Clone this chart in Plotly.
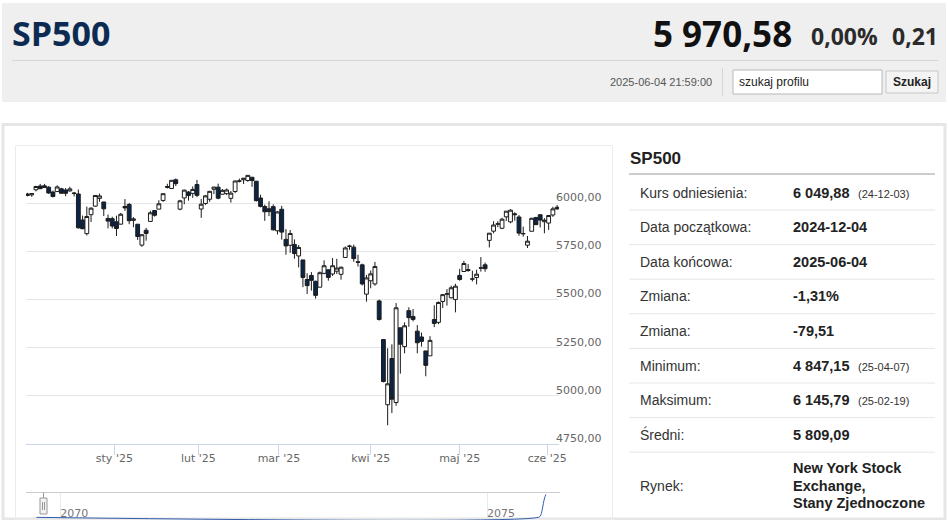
import plotly.graph_objects as go
from datetime import date

# ---------------- data ----------------
dates = [
    "2024-12-02", "2024-12-03", "2024-12-04", "2024-12-05", "2024-12-06",
    "2024-12-09", "2024-12-10", "2024-12-11", "2024-12-12", "2024-12-13",
    "2024-12-16", "2024-12-17", "2024-12-18", "2024-12-19", "2024-12-20",
    "2024-12-23", "2024-12-24", "2024-12-26", "2024-12-27", "2024-12-30", "2024-12-31",
    "2025-01-02", "2025-01-03", "2025-01-06", "2025-01-07", "2025-01-08", "2025-01-10",
    "2025-01-13", "2025-01-14", "2025-01-15", "2025-01-16", "2025-01-17",
    "2025-01-21", "2025-01-22", "2025-01-23", "2025-01-24",
    "2025-01-27", "2025-01-28", "2025-01-29", "2025-01-30", "2025-01-31",
    "2025-02-03", "2025-02-04", "2025-02-05", "2025-02-06", "2025-02-07",
    "2025-02-10", "2025-02-11", "2025-02-12", "2025-02-13", "2025-02-14",
    "2025-02-18", "2025-02-19", "2025-02-20", "2025-02-21",
    "2025-02-24", "2025-02-25", "2025-02-26", "2025-02-27", "2025-02-28",
    "2025-03-03", "2025-03-04", "2025-03-05", "2025-03-06", "2025-03-07",
    "2025-03-10", "2025-03-11", "2025-03-12", "2025-03-13", "2025-03-14",
    "2025-03-17", "2025-03-18", "2025-03-19", "2025-03-20", "2025-03-21",
    "2025-03-24", "2025-03-25", "2025-03-26", "2025-03-27", "2025-03-28", "2025-03-31",
    "2025-04-01", "2025-04-02", "2025-04-03", "2025-04-04",
    "2025-04-07", "2025-04-08", "2025-04-09", "2025-04-10", "2025-04-11",
    "2025-04-14", "2025-04-15", "2025-04-16", "2025-04-17",
    "2025-04-21", "2025-04-22", "2025-04-23", "2025-04-24", "2025-04-25",
    "2025-04-28", "2025-04-29", "2025-04-30",
    "2025-05-01", "2025-05-02", "2025-05-05", "2025-05-06", "2025-05-07", "2025-05-08", "2025-05-09",
    "2025-05-12", "2025-05-13", "2025-05-14", "2025-05-15", "2025-05-16",
    "2025-05-19", "2025-05-20", "2025-05-21", "2025-05-22", "2025-05-23",
    "2025-05-27", "2025-05-28", "2025-05-29", "2025-05-30",
    "2025-06-02", "2025-06-03", "2025-06-04",
]

opens = [
    6040.1, 6043.0, 6069.4, 6089.0, 6081.4, 6083.0, 6057.6, 6060.2, 6074.3, 6068.2,
    6063.8, 6052.6, 6047.7, 5912.7, 5842.0, 5940.3, 5984.6, 6025.0, 6006.2, 5920.7, 5919.7,
    5903.3, 5891.1, 5982.8, 5993.3, 5910.7, 5890.7, 5782.2, 5859.6, 5905.2, 5961.8, 5969.0,
    6014.1, 6081.4, 6076.3, 6121.4, 5969.0, 6027.0, 6057.7, 6050.8, 6096.8,
    5969.7, 5998.1, 6020.5, 6072.2, 6083.1, 6046.4, 6049.3, 6025.1, 6060.6, 6115.5,
    6121.6, 6117.8, 6134.5, 6114.1, 6026.7, 5982.7, 5970.9, 5981.9, 5856.7,
    5968.3, 5812.0, 5781.4, 5785.9, 5726.0, 5705.4, 5603.7, 5624.8, 5594.5, 5563.9,
    5635.6, 5654.5, 5632.4, 5646.9, 5630.7, 5718.1, 5775.9, 5771.7, 5695.6, 5679.8, 5527.9,
    5597.5, 5580.8, 5492.7, 5292.1, 4953.8, 5193.6, 4965.3, 5353.2, 5255.6,
    5442.0, 5412.0, 5335.8, 5305.5, 5232.9, 5207.7, 5395.9, 5381.4, 5489.7,
    5529.2, 5508.9, 5499.4,
    5625.1, 5645.3, 5655.3, 5605.9, 5614.2, 5663.2, 5680.0,
    5807.0, 5854.6, 5891.0, 5869.8, 5929.1, 5902.9, 5944.7, 5928.3, 5841.3, 5781.9,
    5854.1, 5925.1, 5939.9, 5903.7, 5896.7, 5938.6, 5978.7,
]
highs = [
    6053.6, 6052.5, 6089.8, 6099.9, 6099.9, 6088.5, 6065.4, 6092.6, 6079.7, 6078.6,
    6085.2, 6057.7, 6070.7, 5935.5, 5982.1, 5978.3, 6040.1, 6049.8, 6006.2, 5940.8, 5929.7,
    5935.1, 5949.3, 6021.0, 6000.7, 5927.9, 5890.7, 5838.6, 5871.9, 5960.6, 5964.7, 6015.0,
    6051.5, 6100.8, 6118.7, 6128.2, 6017.2, 6069.9, 6062.8, 6086.6, 6120.9,
    6022.1, 6042.5, 6062.9, 6084.0, 6101.3, 6073.4, 6076.3, 6063.1, 6116.9, 6127.5,
    6129.6, 6145.8, 6134.5, 6114.8, 6043.7, 5992.7, 6009.8, 5993.7, 5959.4,
    5986.1, 5865.1, 5860.6, 5812.1, 5783.0, 5705.4, 5636.3, 5642.2, 5597.8, 5645.3,
    5703.5, 5654.5, 5715.3, 5711.2, 5670.8, 5775.1, 5783.8, 5784.7, 5732.3, 5685.9, 5627.6,
    5650.6, 5695.3, 5499.5, 5292.1, 5246.6, 5267.5, 5481.3, 5353.2, 5381.5,
    5459.5, 5450.4, 5367.2, 5328.3, 5232.9, 5309.6, 5469.7, 5489.4, 5528.1,
    5553.7, 5572.0, 5581.8,
    5658.9, 5700.7, 5683.7, 5649.4, 5654.7, 5720.1, 5691.7,
    5844.2, 5906.6, 5906.4, 5924.0, 5958.6, 5968.6, 5953.1, 5938.4, 5878.1, 5829.5,
    5924.3, 5929.0, 5943.1, 5922.1, 5937.4, 5981.4, 5990.5,
]
lows = [
    6035.3, 6033.4, 6061.1, 6079.9, 6079.9, 6048.6, 6029.9, 6060.2, 6051.3, 6035.8,
    6059.1, 6035.2, 5867.8, 5866.1, 5832.3, 5902.6, 5981.4, 6007.4, 5933.0, 5869.2, 5868.9,
    5829.5, 5888.7, 5960.0, 5890.7, 5874.8, 5809.3, 5773.3, 5805.1, 5905.2, 5930.1, 5969.0,
    6006.9, 6076.1, 6074.7, 6088.7, 5962.9, 5994.3, 6013.0, 6027.5, 6030.9,
    5923.9, 5990.9, 6007.1, 6046.8, 6020.0, 6044.8, 6042.3, 6003.0, 6051.3, 6107.6,
    6099.5, 6111.2, 6084.6, 6008.6, 5977.8, 5908.5, 5932.7, 5858.8, 5837.7,
    5810.9, 5732.6, 5742.4, 5711.6, 5666.3, 5564.0, 5528.4, 5546.1, 5504.7, 5563.9,
    5631.1, 5597.8, 5622.2, 5632.3, 5603.1, 5718.1, 5757.9, 5695.4, 5670.9, 5572.4, 5488.7,
    5558.5, 5571.5, 5390.8, 5069.9, 4847.2, 4910.4, 4948.4, 5115.3, 5220.8,
    5358.0, 5386.4, 5220.8, 5255.6, 5101.6, 5207.7, 5356.7, 5372.0, 5455.9,
    5468.6, 5505.7, 5433.2,
    5597.4, 5645.3, 5644.0, 5593.7, 5578.6, 5644.8, 5644.2,
    5770.0, 5843.5, 5875.4, 5864.9, 5907.4, 5895.7, 5909.3, 5830.9, 5825.8, 5767.4,
    5854.1, 5886.8, 5873.8, 5843.7, 5861.4, 5929.0, 5966.1,
]
closes = [
    6047.2, 6049.9, 6086.5, 6075.1, 6090.3, 6052.9, 6034.9, 6084.2, 6051.3, 6051.1,
    6074.1, 6050.6, 5872.2, 5867.1, 5930.9, 5974.1, 6040.0, 6037.6, 5970.8, 5906.9, 5881.6,
    5868.6, 5942.5, 5975.4, 5909.0, 5918.3, 5827.0, 5836.2, 5842.9, 5949.9, 5937.3, 5996.7,
    6049.2, 6086.4, 6118.7, 6101.2, 6012.3, 6067.7, 6039.3, 6071.2, 6040.5,
    5994.6, 6037.9, 6061.5, 6083.6, 6026.0, 6066.4, 6068.5, 6052.0, 6115.1, 6114.6,
    6129.6, 6144.2, 6117.5, 6013.1, 5983.3, 5955.3, 5956.1, 5861.6, 5954.5,
    5849.7, 5778.2, 5842.6, 5738.5, 5770.2, 5614.6, 5572.1, 5599.3, 5521.5, 5638.9,
    5675.1, 5614.7, 5675.3, 5662.9, 5667.6, 5767.6, 5776.7, 5712.2, 5693.3, 5580.9, 5611.9,
    5633.1, 5671.0, 5396.5, 5074.1, 5062.3, 4982.8, 5456.9, 5268.1, 5363.4,
    5406.0, 5396.6, 5275.7, 5282.7, 5158.2, 5287.8, 5375.9, 5484.8, 5525.2,
    5528.8, 5560.8, 5569.1,
    5604.1, 5686.7, 5650.4, 5606.9, 5631.3, 5663.9, 5659.9,
    5844.2, 5886.6, 5892.6, 5916.9, 5958.4, 5963.6, 5940.5, 5844.6, 5842.0, 5802.8,
    5921.5, 5888.6, 5912.2, 5911.7, 5935.9, 5970.4, 5970.6,
]

month_starts = ["2025-01-01", "2025-02-01", "2025-03-01", "2025-04-01", "2025-05-01", "2025-06-01"]
month_labels = ["sty '25", "lut '25", "mar '25", "kwi '25", "maj '25", "cze '25"]

price_ticks = [4750, 5000, 5250, 5500, 5750, 6000, 6250]

# navigator series (long history, squeezed to the right end)
nav_years = [2069.72, 2075.60, 2075.625, 2075.645, 2075.66, 2075.675, 2075.69]
nav_values = [0.0, 0.0, 0.06, 0.3, 0.6, 0.85, 1.0]
nav_ticks = [2070, 2075]

# header
quote_name = "SP500"
last_price = "5 970,58"
change_pct = "0,00%"
change_abs = "0,21"
timestamp = "2025-06-04 21:59:00"
search_placeholder = "szukaj profilu"
search_button = "Szukaj"

# info table
table_title = "SP500"
table_labels = ["Kurs odniesienia:", "Data początkowa:", "Data końcowa:", "Zmiana:",
                "Zmiana:", "Minimum:", "Maksimum:", "Średni:"]
table_values = ["6 049,88", "2024-12-04", "2025-06-04", "-1,31%",
                "-79,51", "4 847,15", "6 145,79", "5 809,09"]
table_notes = ["(24-12-03)", "", "", "", "", "(25-04-07)", "(25-02-19)", ""]
market_label = "Rynek:"
market_lines = ["New York Stock", "Exchange,", "Stany Zjednoczone"]

# ---------------- helpers ----------------
W, H = 948, 520


def fx(px):
    return px / W


def fy(py):
    return 1 - py / H


ords = [date.fromisoformat(d).toordinal() for d in dates]
xs = list(range(len(dates)))


def ordinal_pos(dstr):
    t = date.fromisoformat(dstr).toordinal()
    for i in range(len(ords) - 1):
        if ords[i] <= t <= ords[i + 1]:
            return i + (t - ords[i]) / (ords[i + 1] - ords[i])
    return len(ords) - 1


month_pos = [ordinal_pos(m) for m in month_starts]
price_tick_text = [("" if v == price_ticks[-1] else f"{v:.2f}".replace(".", ",")) for v in price_ticks]

AX_FONT = "DejaVu Sans, Verdana, sans-serif"
TXT_FONT = "Liberation Sans, Arial, sans-serif"
HEAD_FONT = "Open Sans, Liberation Sans, sans-serif"

fig = go.Figure()

fig.add_trace(go.Candlestick(
    x=xs, open=opens, high=highs, low=lows, close=closes,
    increasing=dict(fillcolor="#ffffff", line=dict(color="#1b1b1b", width=1)),
    decreasing=dict(fillcolor="#0b2548", line=dict(color="#1b1b1b", width=1)),
    whiskerwidth=0, hoverinfo="skip", showlegend=False,
))

fig.add_trace(go.Scatter(
    x=nav_years, y=nav_values, mode="lines",
    line=dict(color="#335cad", width=1, shape="spline"),
    xaxis="x2", yaxis="y2", hoverinfo="skip", showlegend=False,
))

shapes = []
# header background
shapes.append(dict(type="rect", xref="paper", yref="paper", x0=fx(2), x1=fx(946), y0=fy(102), y1=fy(3),
                   fillcolor="#efefef", line=dict(width=0), layer="below"))
shapes.append(dict(type="line", xref="paper", yref="paper", x0=fx(12), x1=fx(938), y0=fy(60.5), y1=fy(60.5),
                   line=dict(color="#d6d6d6", width=1)))
shapes.append(dict(type="line", xref="paper", yref="paper", x0=fx(722.5), x1=fx(722.5), y0=fy(96), y1=fy(68),
                   line=dict(color="#d6d6d6", width=1)))
# search input and button
shapes.append(dict(type="rect", xref="paper", yref="paper", x0=fx(733), x1=fx(882), y0=fy(94), y1=fy(70),
                   fillcolor="#ffffff", line=dict(color="#b8b8b8", width=1)))
shapes.append(dict(type="rect", xref="paper", yref="paper", x0=fx(886), x1=fx(938), y0=fy(93), y1=fy(71),
                   fillcolor="#f4f4f4", line=dict(color="#c8c8c8", width=1)))
# container and chart panel
shapes.append(dict(type="rect", xref="paper", yref="paper", x0=fx(3), x1=fx(945), y0=fy(519), y1=fy(124.5),
                   fillcolor="rgba(0,0,0,0)", line=dict(color="#e6e6e6", width=3), layer="below"))
shapes.append(dict(type="rect", xref="paper", yref="paper", x0=fx(15.5), x1=fx(612.5), y0=fy(519.5), y1=fy(145.5),
                   fillcolor="rgba(0,0,0,0)", line=dict(color="#ebebeb", width=1), layer="below"))
# table lines
shapes.append(dict(type="line", xref="paper", yref="paper", x0=fx(629), x1=fx(935), y0=fy(174), y1=fy(174),
                   line=dict(color="#9a9a9a", width=1)))
row_y = [192.5 + 34.6 * i for i in range(len(table_labels))]
for ry in row_y:
    shapes.append(dict(type="line", xref="paper", yref="paper", x0=fx(629), x1=fx(935),
                       y0=fy(ry + 17.5), y1=fy(ry + 17.5), line=dict(color="#e6e6e6", width=1)))
# navigator outline and handle
shapes.append(dict(type="line", xref="paper", yref="paper", x0=fx(26), x1=fx(560), y0=fy(492.5), y1=fy(492.5),
                   line=dict(color="#cccccc", width=1)))
shapes.append(dict(type="line", xref="paper", yref="paper", x0=fx(43.5), x1=fx(43.5), y0=fy(498), y1=fy(492.5),
                   line=dict(color="#999999", width=1)))
shapes.append(dict(type="rect", xref="paper", yref="paper", x0=fx(40), x1=fx(47), y0=fy(514), y1=fy(498),
                   fillcolor="#f2f2f2", line=dict(color="#999999", width=1)))
for hx in (42.5, 44.5):
    shapes.append(dict(type="line", xref="paper", yref="paper", x0=fx(hx), x1=fx(hx), y0=fy(510), y1=fy(502),
                       line=dict(color="#999999", width=1)))

ann = []


def text(x, y, s, size, color="#333333", anchor="left", bold=False, family=TXT_FONT):
    ann.append(dict(x=fx(x), y=fy(y), xref="paper", yref="paper", text=s, showarrow=False,
                    xanchor=anchor, yanchor="middle",
                    font=dict(family=family, size=size, color=color, weight="bold" if bold else "normal")))


# header texts
text(10, 33, quote_name, 34, "#0d2b52", bold=True, family=HEAD_FONT)
text(794, 33, last_price, 35, "#111111", anchor="right", bold=True, family=HEAD_FONT)
text(880, 36, change_pct, 23, "#2b2b2b", anchor="right", bold=True, family=HEAD_FONT)
text(940, 36, change_abs, 23, "#2b2b2b", anchor="right", bold=True, family=HEAD_FONT)
text(714, 82, timestamp, 11, "#555555", anchor="right")
text(737, 82, search_placeholder, 12, "#222222")
text(912, 82, search_button, 12, "#222222", anchor="center", bold=True)

# table texts
text(628, 158, table_title, 17, "#222222", bold=True)
for lab, val, note, ry in zip(table_labels, table_values, table_notes, row_y):
    text(638, ry, lab, 14, "#333333")
    text(791, ry, val, 14.5, "#222222", bold=True)
    if note:
        text(856, ry + 1, note, 11, "#333333")
text(638, 486, market_label, 14, "#333333")
for k, line in enumerate(market_lines):
    text(791, 468 + 17.6 * k, line, 14.5, "#222222", bold=True)

# axes ranges in index units
x_left_px, x_right_px = 26, 559
x0_px, step_px = 27.5, 4.237
x_range = [(x_left_px - x0_px) / step_px, (x_right_px - x0_px) / step_px]
nav_px_per_year = (487 - 60.3) / 5
nav_range = [2070 - (60.3 - x_left_px) / nav_px_per_year, 2075 + (x_right_px - 487) / nav_px_per_year]

fig.update_layout(
    width=W, height=H, autosize=False,
    margin=dict(l=0, r=0, t=0, b=0, pad=0, autoexpand=False),
    paper_bgcolor="#ffffff", plot_bgcolor="rgba(0,0,0,0)",
    showlegend=False, hovermode=False,
    boxgap=0.1, boxgroupgap=0,
    shapes=shapes, annotations=ann,
    xaxis=dict(
        domain=[fx(x_left_px), fx(x_right_px)], range=x_range, anchor="y", automargin=False,
        tickmode="array", tickvals=month_pos, ticktext=month_labels,
        showgrid=False, zeroline=False, showline=True, linecolor="#ccd6eb", linewidth=1,
        ticks="outside", ticklen=10, tickcolor="#ccd6eb", tickwidth=1,
        tickfont=dict(family=AX_FONT, size=11, color="#666666"),
        ticklabelstandoff=-6,
        rangeslider=dict(visible=False), fixedrange=True,
    ),
    yaxis=dict(
        domain=[fy(444), fy(155)], range=[price_ticks[0], price_ticks[-1]], anchor="x", automargin=False,
        side="right", tickmode="array", tickvals=price_ticks, ticktext=price_tick_text,
        showgrid=True, gridcolor="#e6e6e6", gridwidth=1, zeroline=False, showline=False,
        ticks="", tickfont=dict(family=AX_FONT, size=11, color="#666666"),
        ticklabelshift=-6, ticklabelstandoff=-4, fixedrange=True,
    ),
    xaxis2=dict(
        domain=[fx(x_left_px), fx(x_right_px)], range=nav_range, anchor="y2", automargin=False,
        tickmode="array", tickvals=nav_ticks, ticktext=[str(t) for t in nav_ticks],
        showgrid=True, gridcolor="#ebebeb", zeroline=False, showline=False, ticks="",
        ticklabelposition="inside right", ticklabelstandoff=-5,
        tickfont=dict(family=AX_FONT, size=11, color="#777777"), fixedrange=True,
    ),
    yaxis2=dict(
        domain=[0, fy(492.5)], range=[-0.116, 1.086], anchor="x2", visible=False, fixedrange=True,
        automargin=False,
    ),
)

fig.write_html(
    "out.html",
    config={"displayModeBar": False, "staticPlot": True},
    post_script=(
        "document.documentElement.style.overflow='hidden';"
        "document.body.style.margin='0';"
        "document.body.style.overflow='hidden';"
    ),
)
